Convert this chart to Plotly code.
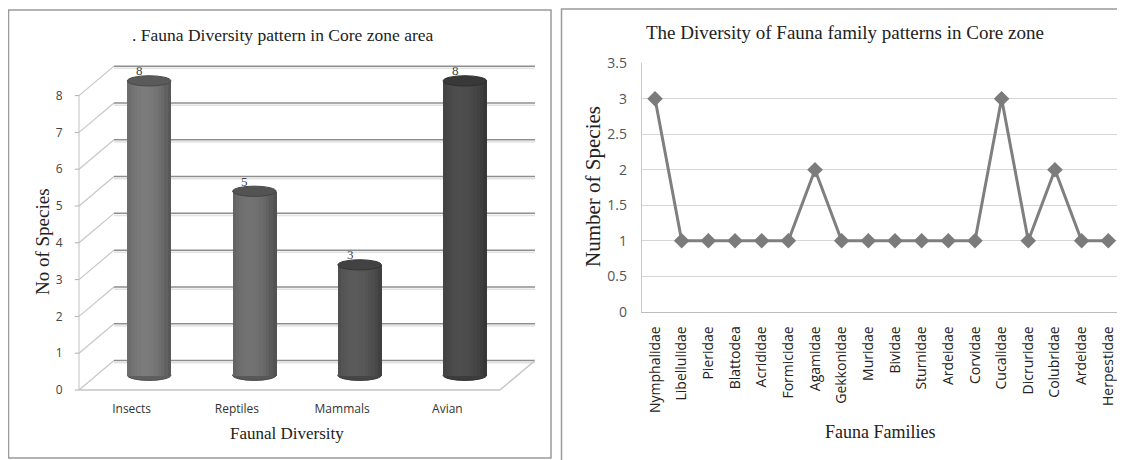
import plotly.graph_objects as go

# ---------------- data ----------------
groups = ["Insects", "Reptiles", "Mammals", "Avian"]
group_counts = [8, 5, 3, 8]
left_yticks = [0, 1, 2, 3, 4, 5, 6, 7, 8]

families = ["Nymphalidae", "Libellulidae", "Pieridae", "Blattodea", "Acrididae",
            "Formicidae", "Agamidae", "Gekkonidae", "Muridae", "Bividae",
            "Sturnidae", "Ardeidae", "Corvidae", "Cucalidae", "Dicruridae",
            "Colubridae", "Ardeidae", "Herpestidae"]
family_counts = [3, 1, 1, 1, 1, 1, 2, 1, 1, 1, 1, 1, 1, 3, 1, 2, 1, 1]
right_yticks = [0, 0.5, 1, 1.5, 2, 2.5, 3, 3.5]

# ---------------- style ----------------
W, H = 1125, 460
OFF = 8  # page body margin: the figure lands 8px right/down in the window
SERIF = "Liberation Serif"
SANS = "Open Sans"
group_gray = [112, 104, 82, 70]


def PX(x):   # window px -> paper x
    return (x - OFF) / W


def PY(y):   # window px -> paper y
    return (H - (y - OFF)) / H


# 3-D geometry of left chart (in data units)
DX = 0.3325   # depth shift along x
DY = 0.80     # depth shift along y
CW = 0.413    # cylinder width
EH = 0.14     # ellipse half height
NSTRIP = 13

L_X0_PX, L_CAT_PX = 79.0, 105.25   # front-left edge px, px per category
L_Y0_PX, L_UNIT_PX = 390.0, 36.8   # px of value 0, px per unit
lx_range = [-0.55, 3.5 + DX + 0.04]
ly_range = [-0.15, 8 + DY + 0.15]
lx_dom = [PX(L_X0_PX + (lx_range[0] + 0.5) * L_CAT_PX),
          PX(L_X0_PX + (lx_range[1] + 0.5) * L_CAT_PX)]
ly_dom = [PY(L_Y0_PX - ly_range[0] * L_UNIT_PX),
          PY(L_Y0_PX - ly_range[1] * L_UNIT_PX)]

rx_dom = [PX(641.7), PX(1121.6)]
ry_dom = [PY(311.7), PY(63.3)]


def gray(v):
    v = max(0, min(255, int(round(v))))
    return f"rgb({v},{v},{v})"


def shade(g, t):
    f = 0.74 + 0.36 * max(0.0, 1 - ((t + 0.2) / 1.2) ** 2)
    return gray(g * f)


fig = go.Figure()
shapes = []

# ---- left chart walls / gridlines (below traces) ----
for v in left_yticks:
    shapes.append(dict(type="line", xref="x", yref="y", layer="below",
                       x0=-0.5, y0=v, x1=-0.5 + DX, y1=v + DY,
                       line=dict(color="#c6c6c6", width=1.2)))
    shapes.append(dict(type="line", xref="x", yref="y", layer="below",
                       x0=-0.5 + DX, y0=v + DY - 0.06, x1=3.5 + DX, y1=v + DY - 0.06,
                       line=dict(color="#e2e2e2", width=1.5)))
    shapes.append(dict(type="line", xref="x", yref="y", layer="below",
                       x0=-0.5 + DX, y0=v + DY, x1=3.5 + DX, y1=v + DY,
                       line=dict(color="#8e8e8e", width=1.5)))
    shapes.append(dict(type="line", xref="x", yref="y", layer="below",
                       x0=-0.5 - 0.04, y0=v, x1=-0.5, y1=v,
                       line=dict(color="#b0b0b0", width=1)))
shapes.append(dict(type="line", xref="x", yref="y", layer="below",
                   x0=-0.5, y0=0, x1=3.5, y1=0,
                   line=dict(color="#c4c4c4", width=1.6)))
shapes.append(dict(type="line", xref="x", yref="y", layer="below",
                   x0=3.5, y0=0, x1=3.5 + DX, y1=DY,
                   line=dict(color="#c4c4c4", width=1.4)))
shapes.append(dict(type="line", xref="x", yref="y", layer="below",
                   x0=-0.5, y0=0, x1=-0.5, y1=left_yticks[-1],
                   line=dict(color="#c0c0c0", width=1)))

# cylinder bottoms
for i, (v, g) in enumerate(zip(group_counts, group_gray)):
    cx = i + DX / 2
    shapes.append(dict(type="circle", xref="x", yref="y", layer="below",
                       x0=cx - CW / 2, x1=cx + CW / 2,
                       y0=DY / 2 - EH, y1=DY / 2 + EH,
                       fillcolor=gray(g * 0.85), line=dict(color=gray(g * 0.7), width=1)))

# cylinder bodies as shaded strips
for k in range(NSTRIP):
    t = -1 + (2 * k + 1) / NSTRIP
    xs = [i + DX / 2 + t * CW / 2 for i in range(len(groups))]
    fig.add_trace(go.Bar(
        x=xs, y=group_counts, base=DY / 2,
        width=CW / NSTRIP * 1.12,
        marker=dict(color=[shade(g, t) for g in group_gray], line=dict(width=0)),
        xaxis="x", yaxis="y", showlegend=False, hoverinfo="skip"))

# cylinder tops
for i, (v, g) in enumerate(zip(group_counts, group_gray)):
    cx = i + DX / 2
    top = v + DY / 2
    shapes.append(dict(type="circle", xref="x", yref="y", layer="above",
                       x0=cx - CW / 2, x1=cx + CW / 2,
                       y0=top - EH, y1=top + EH,
                       fillcolor=gray(g * 0.8), line=dict(color=gray(g * 0.65), width=1)))

annotations = []
for i, v in enumerate(group_counts):
    annotations.append(dict(x=i + DX / 2 - 0.09, y=v + DY / 2 + 0.27, xref="x", yref="y",
                            text=str(v), showarrow=False,
                            xanchor="center", yanchor="middle",
                            font=dict(family=SERIF, size=13, color="#444")))

# ---- right chart ----
fig.add_trace(go.Scatter(
    x=list(range(len(families))), y=family_counts,
    mode="lines+markers", xaxis="x2", yaxis="y2",
    line=dict(color="#7f7f7f", width=3),
    marker=dict(symbol="diamond", size=12, color="#7b7b7b"),
    showlegend=False, hoverinfo="skip"))


def label(x, y, text, size, angle=0):
    return dict(x=PX(x), y=PY(y), xref="paper", yref="paper", showarrow=False,
                xanchor="center", yanchor="middle", text=text, textangle=angle,
                font=dict(family=SERIF, size=size, color="#222"))


annotations += [
    label(283, 35, ". Fauna Diversity pattern in Core zone area", 17.5),
    label(287, 433, "Faunal Diversity", 17),
    label(43, 242, "No of Species", 19, -90),
    label(845, 32, "The Diversity of Fauna family patterns in Core zone", 19),
    label(880, 432, "Fauna Families", 18),
    label(593, 187, "Number of Species", 21, -90),
]

# ---- panel borders ----
shapes.append(dict(type="rect", xref="paper", yref="paper",
                   x0=PX(8.5), x1=PX(551), y0=PY(458), y1=PY(10),
                   line=dict(color="#9a9a9a", width=1.5), fillcolor="rgba(0,0,0,0)"))
shapes.append(dict(type="rect", xref="paper", yref="paper",
                   x0=PX(561.5), x1=PX(1140), y0=PY(470), y1=PY(9),
                   line=dict(color="#9a9a9a", width=1.5), fillcolor="rgba(0,0,0,0)"))

fig.update_layout(
    width=W, height=H,
    margin=dict(l=0, r=0, t=0, b=0, autoexpand=False),
    paper_bgcolor="white", plot_bgcolor="rgba(0,0,0,0)",
    barmode="overlay", bargap=0,
    showlegend=False,
    shapes=shapes, annotations=annotations,
    xaxis=dict(domain=lx_dom, range=lx_range, anchor="y", automargin=False,
               tickmode="array", tickvals=list(range(len(groups))), ticktext=groups,
               showgrid=False, zeroline=False, showline=False, ticks="",
               ticklabelstandoff=4,
               tickfont=dict(family=SANS, size=12, color="#333")),
    yaxis=dict(domain=ly_dom, range=ly_range, anchor="x", automargin=False,
               tickmode="array", tickvals=left_yticks,
               showgrid=False, zeroline=False, showline=False, ticks="",
               ticklabelstandoff=10,
               tickfont=dict(family=SANS, size=12, color="#444")),
    xaxis2=dict(domain=rx_dom, range=[-0.5, len(families) - 0.5], anchor="y2",
                automargin=False,
                tickmode="array", tickvals=list(range(len(families))), ticktext=families,
                tickangle=-90, showgrid=False, zeroline=False,
                showline=True, linecolor="#bdbdbd", linewidth=1, ticks="",
                ticklabelstandoff=8,
                tickfont=dict(family=SANS, size=14, color="#222")),
    yaxis2=dict(domain=ry_dom, range=[0, 3.5], anchor="x2", automargin=False,
                tickmode="array", tickvals=right_yticks,
                ticktext=[f"{v:g}" for v in right_yticks],
                showgrid=True, gridcolor="#d6d6d6", gridwidth=1.2, zeroline=False,
                showline=True, linecolor="#c8c8c8", linewidth=1, ticks="",
                ticklabelstandoff=11,
                tickfont=dict(family=SANS, size=14, color="#555")),
)

fig.write_html("out.html")
